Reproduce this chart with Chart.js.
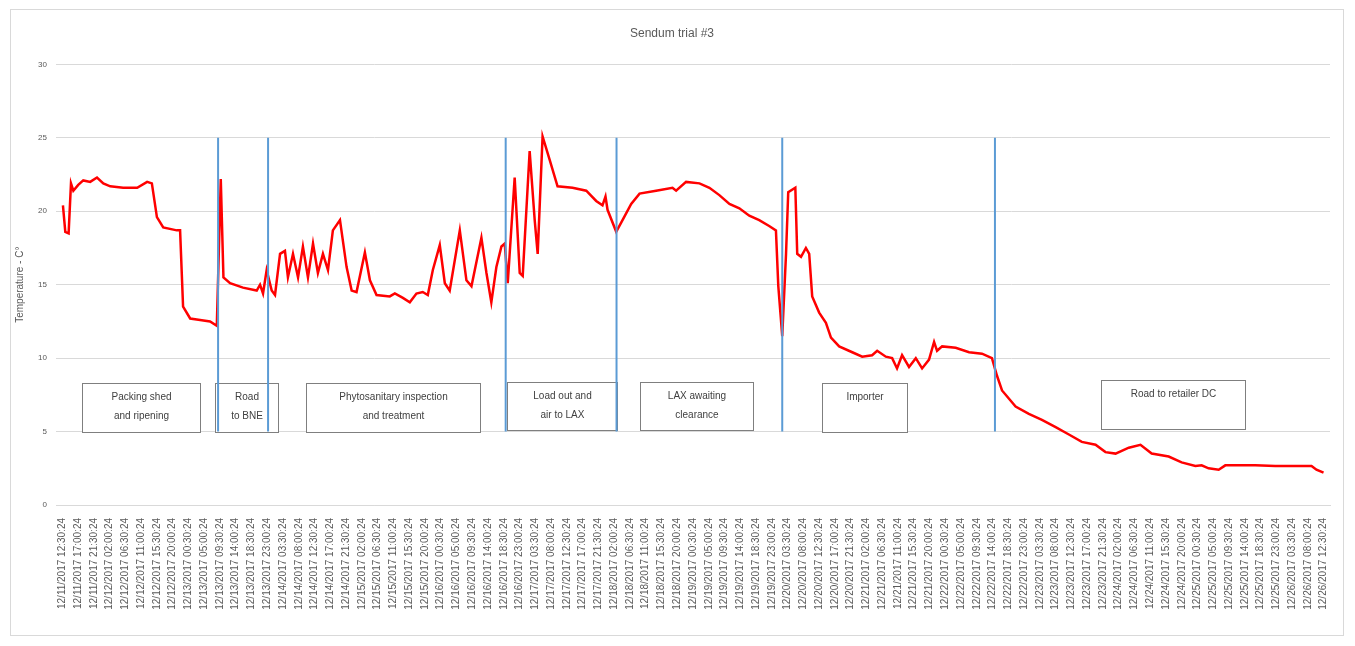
<!DOCTYPE html>
<html>
<head>
<meta charset="utf-8">
<title>Sendum trial #3</title>
<script src="https://cdn.jsdelivr.net/npm/chart.js@4.4.0/dist/chart.umd.min.js"></script>
<style>
  html, body { margin: 0; padding: 0; background: #fff; }
  #wrap { position: relative; width: 1355px; height: 646px; }
</style>
</head>
<body>
<div id="wrap"><canvas id="chart"></canvas></div>
<script>
// x axis tick labels (one per category slot)
const xLabels = [
  "12/11/2017 12:30:24", "12/11/2017 17:00:24", "12/11/2017 21:30:24", "12/12/2017 02:00:24",
  "12/12/2017 06:30:24", "12/12/2017 11:00:24", "12/12/2017 15:30:24", "12/12/2017 20:00:24",
  "12/13/2017 00:30:24", "12/13/2017 05:00:24", "12/13/2017 09:30:24", "12/13/2017 14:00:24",
  "12/13/2017 18:30:24", "12/13/2017 23:00:24", "12/14/2017 03:30:24", "12/14/2017 08:00:24",
  "12/14/2017 12:30:24", "12/14/2017 17:00:24", "12/14/2017 21:30:24", "12/15/2017 02:00:24",
  "12/15/2017 06:30:24", "12/15/2017 11:00:24", "12/15/2017 15:30:24", "12/15/2017 20:00:24",
  "12/16/2017 00:30:24", "12/16/2017 05:00:24", "12/16/2017 09:30:24", "12/16/2017 14:00:24",
  "12/16/2017 18:30:24", "12/16/2017 23:00:24", "12/17/2017 03:30:24", "12/17/2017 08:00:24",
  "12/17/2017 12:30:24", "12/17/2017 17:00:24", "12/17/2017 21:30:24", "12/18/2017 02:00:24",
  "12/18/2017 06:30:24", "12/18/2017 11:00:24", "12/18/2017 15:30:24", "12/18/2017 20:00:24",
  "12/19/2017 00:30:24", "12/19/2017 05:00:24", "12/19/2017 09:30:24", "12/19/2017 14:00:24",
  "12/19/2017 18:30:24", "12/19/2017 23:00:24", "12/20/2017 03:30:24", "12/20/2017 08:00:24",
  "12/20/2017 12:30:24", "12/20/2017 17:00:24", "12/20/2017 21:30:24", "12/21/2017 02:00:24",
  "12/21/2017 06:30:24", "12/21/2017 11:00:24", "12/21/2017 15:30:24", "12/21/2017 20:00:24",
  "12/22/2017 00:30:24", "12/22/2017 05:00:24", "12/22/2017 09:30:24", "12/22/2017 14:00:24",
  "12/22/2017 18:30:24", "12/22/2017 23:00:24", "12/23/2017 03:30:24", "12/23/2017 08:00:24",
  "12/23/2017 12:30:24", "12/23/2017 17:00:24", "12/23/2017 21:30:24", "12/24/2017 02:00:24",
  "12/24/2017 06:30:24", "12/24/2017 11:00:24", "12/24/2017 15:30:24", "12/24/2017 20:00:24",
  "12/25/2017 00:30:24", "12/25/2017 05:00:24", "12/25/2017 09:30:24", "12/25/2017 14:00:24",
  "12/25/2017 18:30:24", "12/25/2017 23:00:24", "12/26/2017 03:30:24", "12/26/2017 08:00:24",
  "12/26/2017 12:30:24"
];

// logger readings: position along the label axis, and temperature (C)
const sampleIdx = [
  0.04, 0.19, 0.40, 0.55, 0.70, 1.01, 1.33, 1.77, 2.20, 2.60, 3.04, 3.86, 4.75, 5.38, 5.68,
  6.00, 6.40, 7.26, 7.47, 7.66, 8.11, 8.74, 9.37, 9.80, 10.05, 10.22, 10.64, 11.46, 12.33,
  12.54, 12.73, 12.96, 13.28, 13.49, 13.81, 14.12, 14.31, 14.63, 14.95, 15.26, 15.58, 15.90,
  16.21, 16.53, 16.85, 17.16, 17.61, 18.03, 18.35, 18.66, 19.19, 19.51, 19.93, 20.77, 21.09,
  21.60, 22.04, 22.46, 22.86, 23.18, 23.50, 23.94, 24.26, 24.57, 25.21, 25.63, 25.95, 26.58,
  26.90, 27.21, 27.53, 27.85, 28.06, 28.25, 28.69, 29.01, 29.20, 29.64, 29.96, 30.15, 30.46,
  30.91, 31.41, 32.36, 33.23, 33.86, 34.26, 34.45, 34.58, 35.13, 35.53, 36.08, 36.61, 37.66,
  38.70, 38.93, 39.56, 40.41, 41.04, 41.67, 42.31, 42.94, 43.57, 44.20, 44.83, 45.26, 45.41,
  45.66, 45.90, 46.04, 46.49, 46.61, 46.85, 47.16, 47.37, 47.56, 48.00, 48.43, 48.75, 49.27,
  50.10, 50.73, 51.36, 51.68, 52.23, 52.63, 52.94, 53.26, 53.70, 54.13, 54.53, 54.97, 55.29,
  55.48, 55.80, 56.66, 57.51, 58.33, 58.96, 59.28, 59.60, 60.46, 61.30, 62.13, 63.00, 63.84,
  64.66, 65.53, 66.16, 66.80, 67.64, 68.38, 69.09, 70.17, 70.99, 71.86, 72.26, 72.70, 73.34,
  73.76, 74.40, 75.66, 76.93, 78.19, 79.23, 79.54, 79.99
];
const tempC = [
  20.4, 18.6, 18.5, 21.9, 21.4, 21.8, 22.1, 22.0, 22.3, 21.9, 21.7, 21.6, 21.6, 22.0, 21.9,
  19.6, 18.9, 18.7, 18.7, 13.5, 12.7, 12.6, 12.5, 12.2, 22.2, 15.5, 15.1, 14.8, 14.6,
  15.0, 14.4, 16.0, 14.6, 14.3, 17.1, 17.3, 15.5, 17.1, 15.5, 17.6, 15.5, 17.8,
  15.8, 17.1, 16.0, 18.7, 19.4, 16.2, 14.6, 14.5, 17.2, 15.3, 14.3, 14.2, 14.4,
  14.1, 13.8, 14.4, 14.5, 14.3, 16.0, 17.7, 15.1, 14.6, 18.7, 15.3, 14.9, 18.2,
  15.8, 13.8, 16.2, 17.6, 17.8, 15.1, 22.3, 15.8, 15.6, 24.1, 19.4, 17.1, 25.1,
  23.5, 21.7, 21.6, 21.4, 20.7, 20.4, 21.0, 20.1, 18.6, 19.4, 20.5, 21.2, 21.4,
  21.6, 21.4, 22.0, 21.9, 21.6, 21.1, 20.5, 20.2, 19.7, 19.4, 19.0, 18.7, 14.9,
  11.5, 17.1, 21.3, 21.6, 17.1, 16.9, 17.5, 17.1, 14.2, 13.1, 12.4, 11.4, 10.8,
  10.4, 10.1, 10.2, 10.5, 10.1, 10.0, 9.3, 10.2, 9.4, 10.0, 9.3, 9.9, 11.1,
  10.5, 10.8, 10.7, 10.4, 10.3, 10.0, 8.8, 7.8, 6.7, 6.2, 5.8, 5.3, 4.8,
  4.3, 4.1, 3.6, 3.5, 3.9, 4.1, 3.5, 3.3, 2.9, 2.65, 2.7, 2.5, 2.4,
  2.7, 2.7, 2.7, 2.65, 2.65, 2.65, 2.4, 2.2
];

// where each leg of the journey starts/ends (label axis units)
const phaseBounds = [9.88, 13.05, 28.12, 35.15, 45.66, 59.15];
const phaseLineTop = 25;
const phaseLineBottom = 5;

// text boxes naming each leg
const phaseNames = [
  ["Packing shed", "and ripening"],
  ["Road", "to BNE"],
  ["Phytosanitary inspection", "and treatment"],
  ["Load out and", "air to LAX"],
  ["LAX awaiting", "clearance"],
  ["Importer"],
  ["Road to retailer DC"]
];
// box extents in axis units: [xFrom, xTo, yTop, yBottom]
const phaseBoxes = [
  [1.27, 8.74, 8.3, 5.0],
  [9.69, 13.68, 8.3, 5.0],
  [15.45, 26.47, 8.3, 5.0],
  [28.18, 35.15, 8.4, 5.1],
  [36.67, 43.83, 8.4, 5.1],
  [48.20, 53.58, 8.3, 5.0],
  [65.86, 74.98, 8.5, 5.2]
];

const lineData = sampleIdx.map((x, i) => ({ x: x, y: tempC[i] }));

const boundSets = phaseBounds.map(b => ({
  data: [{ x: b, y: phaseLineTop }, { x: b, y: phaseLineBottom }],
  borderColor: "#5b9bd5",
  borderWidth: 2,
  pointRadius: 0,
  order: 0
}));

const frame = {
  id: "frame",
  beforeDraw(chart) {
    const ctx = chart.ctx;
    ctx.save();
    ctx.fillStyle = "#fff";
    ctx.fillRect(0, 0, chart.width, chart.height);
    ctx.strokeStyle = "#d9d9d9";
    ctx.lineWidth = 1;
    ctx.strokeRect(10.5, 9.5, chart.width - 22, chart.height - 20);
    ctx.restore();
  }
};

const boxes = {
  id: "boxes",
  beforeDatasetsDraw(chart) {
    const { ctx, scales: { x, y } } = chart;
    ctx.save();
    ctx.font = "10px 'Liberation Sans', Arial, sans-serif";
    ctx.textAlign = "center";
    ctx.textBaseline = "middle";
    phaseBoxes.forEach((b, i) => {
      const x0 = Math.round(x.getPixelForValue(b[0])) + 0.5;
      const x1 = Math.round(x.getPixelForValue(b[1])) + 0.5;
      const y0 = Math.round(y.getPixelForValue(b[2])) + 0.5;
      const y1 = Math.round(y.getPixelForValue(b[3])) + 0.5;
      ctx.fillStyle = "#fff";
      ctx.fillRect(x0, y0, x1 - x0, y1 - y0);
      ctx.strokeStyle = "#7f7f7f";
      ctx.lineWidth = 1;
      ctx.strokeRect(x0, y0, x1 - x0, y1 - y0);
      ctx.fillStyle = "#404040";
      phaseNames[i].forEach((t, k) => {
        ctx.fillText(t, (x0 + x1) / 2, y0 + 14 + k * 19);
      });
    });
    ctx.restore();
  }
};

new Chart(document.getElementById("chart"), {
  type: "line",
  data: {
    datasets: [
      {
        label: "Temperature",
        data: lineData,
        borderColor: "#ff0000",
        borderWidth: 2.5,
        pointRadius: 0,
        tension: 0,
        order: 1
      },
      ...boundSets
    ]
  },
  options: {
    responsive: true,
    maintainAspectRatio: false,
    animation: false,
    layout: { padding: { left: 14, right: 25, top: 6, bottom: 22 } },
    plugins: {
      legend: { display: false },
      tooltip: { enabled: false },
      title: {
        display: true,
        text: "Sendum trial #3",
        color: "#595959",
        font: { family: "'Liberation Sans', Arial, sans-serif", size: 12, weight: "normal" },
        padding: { top: 20, bottom: 24 }
      }
    },
    scales: {
      x: {
        type: "linear",
        min: -0.4,
        max: 80.4,
        grid: { display: false },
        border: { display: true, color: "#d9d9d9" },
        afterBuildTicks: s => { s.ticks = xLabels.map((_, i) => ({ value: i })); },
        afterFit: s => { s.height = 119; },
        ticks: {
          autoSkip: false,
          minRotation: 90,
          maxRotation: 90,
          padding: 5,
          color: "#595959",
          font: { family: "'Liberation Sans', Arial, sans-serif", size: 10 },
          callback: v => xLabels[v]
        }
      },
      y: {
        min: 0,
        max: 30,
        grid: { color: "#d9d9d9", drawTicks: false },
        border: { display: false },
        afterFit: s => { s.width = 42; },
        ticks: {
          stepSize: 5,
          padding: 9,
          color: "#595959",
          font: { family: "'Liberation Sans', Arial, sans-serif", size: 8 }
        },
        title: {
          display: true,
          text: "Temperature - C°",
          color: "#595959",
          font: { family: "'Liberation Sans', Arial, sans-serif", size: 10 },
          padding: { top: 0, bottom: 0 }
        }
      }
    }
  },
  plugins: [frame, boxes]
});
</script>
</body>
</html>
